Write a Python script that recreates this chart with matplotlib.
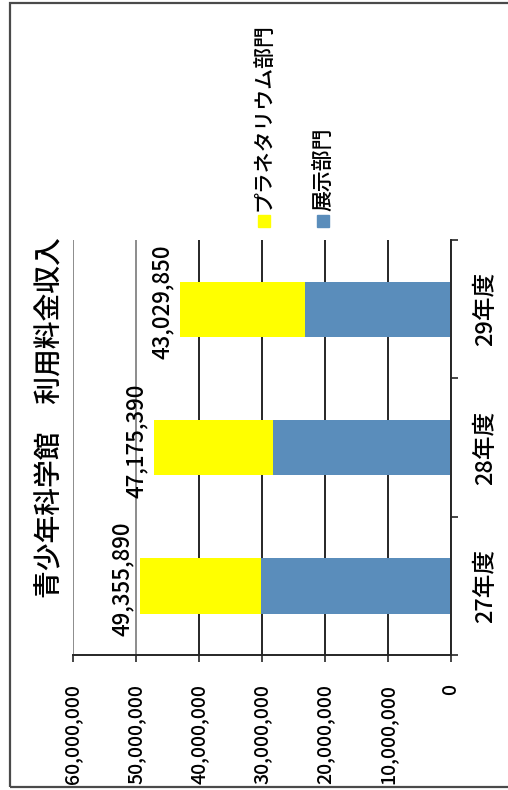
#!/usr/bin/env python3
"""青少年科学館 利用料金収入 - stacked bars, drawn rotated like the scanned page."""
import matplotlib
matplotlib.use('Agg')
import matplotlib.pyplot as plt
from matplotlib.patches import Rectangle

plt.rcParams['font.family'] = ['Noto Sans CJK JP', 'DejaVu Sans']
plt.rcParams['font.weight'] = 'medium'

# --- data ---
years       = ['27年度', '28年度', '29年度']
exhibit     = [30200000, 28300000, 23200000]   # 展示部門 (blue, bottom)
planetarium = [19150000, 18880000, 19830000]   # プラネタリウム部門 (yellow, top)
totals      = [49355890, 47175390, 43029850]   # printed totals
total_text  = ['49,355,890', '47,175,390', '43,029,850']
value_ticks = [0, 10000000, 20000000, 30000000, 40000000, 50000000, 60000000]
value_text  = ['0', '10,000,000', '20,000,000', '30,000,000',
               '40,000,000', '50,000,000', '60,000,000']
series_names = ['プラネタリウム部門', '展示部門']

BLUE   = '#5a8dbb'
YELLOW = '#ffff00'
DARK   = '#262626'

W, H = 508, 790
fig = plt.figure(figsize=(W / 100, H / 100), dpi=100)

# plot area in pixels of the page: x 73..451, y 240..655 (from top)
ax = fig.add_axes([73 / W, 1 - 655 / H, 378 / W, 415 / H])

pos = list(range(len(years)))
ax.barh(pos, exhibit, height=0.4, color=BLUE, zorder=2)
ax.barh(pos, planetarium, left=exhibit, height=0.4, color=YELLOW, zorder=2)

ax.set_xlim(60000000, 0)          # values grow to the left
ax.set_ylim(-0.5, len(years) - 0.5)

# value axis along the bottom, labels turned 90 degrees
ax.set_xticks(value_ticks)
ax.set_xticklabels(value_text)
ax.tick_params(axis='x', direction='out', length=5, width=1.2, color=DARK,
               labelrotation=90, labelsize=14, pad=16)
ax.grid(axis='x', color=DARK, linewidth=1.4)
ax.set_axisbelow(True)
# the top of the scan is washed out, the two far lines look grey
for gl in ax.get_xgridlines()[-2:]:
    gl.set_color('#8c8c8c')

# category axis on the right
ax.yaxis.tick_right()
ax.set_yticks(pos)
ax.set_yticklabels(years)
ax.set_yticks([p - 0.5 for p in pos] + [pos[-1] + 0.5], minor=True)
ax.tick_params(axis='y', which='major', length=0, labelrotation=90,
               labelsize=17, pad=17)
ax.tick_params(axis='y', which='minor', direction='out', length=5,
               width=1.2, color=DARK)
for lab in ax.get_yticklabels():
    lab.set_va('center')

for side in ['top', 'left']:
    ax.spines[side].set_visible(False)
for side in ['bottom', 'right']:
    ax.spines[side].set_color(DARK)
    ax.spines[side].set_linewidth(1.4)

# totals printed just past the bar ends
for p, tot, txt in zip(pos, totals, total_text):
    ax.annotate(txt, (tot, p), xytext=(-6, 7), textcoords='offset pixels',
                rotation=90, ha='right', va='center', fontsize=16)

# title, rotated like the page
fig.text(50 / W, 1 - 418 / H, '青少年科学館　利用料金収入', rotation=90,
         ha='center', va='center', fontsize=20)

# hand-made legend (rotated)
for name, col, xc in zip(series_names, [YELLOW, BLUE], [264, 323]):
    fig.add_artist(Rectangle(((xc - 6) / W, 1 - 227 / H), 12 / W, 12 / H,
                             transform=fig.transFigure, color=col))
    fig.text(xc / W, 1 - 211 / H, name, rotation=90, ha='center',
             va='bottom', fontsize=15)

# chart frame (right side runs off the page)
fig.add_artist(Rectangle((10 / W, 3 / H), 1.2, 1 - 6 / H,
                         transform=fig.transFigure, fill=False,
                         edgecolor='#4a4a4a', linewidth=1.6))

fig.savefig('out.png', dpi=100)
